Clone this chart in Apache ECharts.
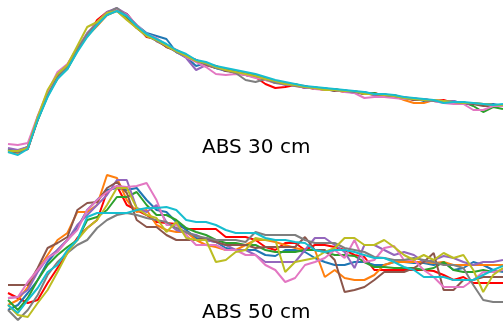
<!DOCTYPE html>
<html>
<head>
<meta charset="utf-8">
<script src="https://cdn.jsdelivr.net/npm/echarts@6/dist/echarts.min.js"></script>
<style>
  html, body { margin: 0; padding: 0; background: #fff; }
  #chart { width: 503px; height: 328px; }
</style>
</head>
<body>
<div id="chart"></div>
<script>
// 51 samples per trace, shared by both panels
const samples = Array.from({ length: 51 }, (_, i) => i);

const names = ['t1', 't2', 't3', 't4', 't5', 't6', 't7', 't8', 't9', 't10'];
const colors = ['#ff0000', '#1f77b4', '#ff7f0e', '#2ca02c', '#9467bd',
                '#8c564b', '#e377c2', '#7f7f7f', '#bcbd22', '#17becf'];

// ABS 30 cm
const abs30 = [
  [9, 8, 11, 40, 66, 82, 95, 112, 124, 140, 148, 150, 146, 134, 123, 121, 113, 110, 103, 100, 95, 92, 91, 87, 85, 83, 76, 72, 73, 75, 72, 72, 70, 71, 68, 69, 66, 67, 64, 63, 63, 60, 61, 59, 60, 57, 57, 56, 56, 55, 54],
  [11, 9, 13, 43, 64, 84, 92, 111, 126, 135, 147, 151, 145, 135, 127, 124, 121, 108, 103, 94, 97, 92, 89, 89, 85, 83, 82, 77, 77, 74, 74, 71, 72, 69, 70, 67, 68, 65, 66, 63, 62, 62, 59, 60, 58, 59, 56, 57, 55, 56, 54],
  [8, 7, 12, 41, 66, 81, 94, 110, 124, 134, 145, 149, 141, 132, 126, 119, 114, 110, 105, 99, 96, 94, 90, 87, 87, 84, 80, 78, 77, 74, 73, 71, 71, 70, 68, 68, 67, 65, 65, 64, 60, 57, 57, 60, 58, 58, 57, 56, 56, 55, 55],
  [10, 8, 13, 40, 64, 82, 91, 109, 125, 137, 146, 150, 143, 133, 124, 121, 115, 108, 105, 99, 97, 92, 91, 87, 86, 85, 81, 79, 76, 76, 73, 73, 70, 71, 69, 68, 66, 67, 64, 65, 62, 61, 60, 59, 59, 57, 58, 54, 48, 53, 51],
  [12, 10, 13, 43, 66, 84, 94, 111, 127, 137, 148, 152, 146, 134, 125, 119, 114, 108, 102, 90, 95, 93, 89, 88, 85, 84, 81, 78, 75, 75, 72, 72, 71, 70, 69, 67, 67, 65, 64, 63, 63, 61, 61, 59, 58, 59, 56, 56, 55, 55, 54],
  [9, 8, 11, 41, 65, 83, 92, 110, 124, 136, 145, 150, 144, 132, 124, 120, 113, 109, 104, 100, 95, 94, 89, 88, 86, 83, 81, 79, 76, 75, 74, 71, 71, 69, 69, 68, 66, 66, 65, 63, 62, 60, 60, 59, 58, 58, 57, 56, 54, 54, 54],
  [16, 15, 17, 44, 68, 88, 96, 112, 126, 138, 147, 151, 145, 135, 126, 122, 115, 110, 103, 98, 93, 86, 85, 86, 85, 82, 80, 77, 76, 74, 73, 71, 70, 70, 68, 67, 62, 63, 63, 62, 61, 62, 60, 59, 57, 56, 56, 50, 50, 54, 54],
  [10, 8, 12, 42, 65, 82, 93, 111, 126, 137, 147, 152, 144, 134, 125, 119, 115, 108, 104, 99, 96, 92, 90, 87, 80, 78, 81, 77, 76, 74, 73, 72, 71, 70, 69, 68, 67, 66, 65, 64, 62, 61, 60, 59, 59, 58, 57, 57, 56, 55, 55],
  [9, 9, 12, 43, 70, 86, 95, 114, 133, 138, 147, 149, 140, 132, 124, 120, 114, 109, 104, 99, 97, 93, 90, 88, 86, 84, 81, 79, 76, 75, 73, 72, 70, 70, 69, 69, 66, 66, 65, 64, 62, 61, 60, 60, 59, 58, 57, 57, 56, 55, 55],
  [8, 5, 11, 40, 63, 81, 91, 108, 123, 135, 145, 149, 144, 134, 126, 121, 116, 110, 106, 100, 98, 94, 92, 90, 88, 86, 83, 80, 78, 76, 74, 73, 72, 71, 70, 69, 68, 66, 66, 65, 63, 62, 61, 60, 57, 58, 58, 57, 56, 55, 56]
];

// ABS 50 cm
const abs50 = [
  [32, 27, 22, 25, 42, 57, 72, 87, 97, 105, 133, 139, 120, 115, 110, 103, 102, 101, 96, 96, 96, 96, 88, 88, 88, 85, 78, 75, 82, 82, 75, 80, 80, 78, 75, 70, 68, 55, 55, 55, 55, 55, 55, 54, 50, 45, 48, 42, 42, 42, 42],
  [15, 20, 32, 45, 63, 75, 85, 97, 115, 125, 135, 137, 135, 137, 125, 115, 113, 103, 95, 87, 85, 83, 77, 75, 75, 75, 70, 69, 75, 75, 73, 67, 63, 60, 60, 63, 63, 60, 60, 63, 63, 62, 62, 60, 63, 55, 57, 63, 60, 55, 53],
  [20, 25, 38, 55, 70, 85, 92, 113, 113, 120, 150, 147, 125, 113, 115, 100, 95, 93, 93, 85, 80, 78, 75, 75, 80, 85, 85, 83, 80, 77, 75, 75, 48, 55, 47, 45, 45, 50, 60, 63, 63, 63, 63, 62, 63, 60, 60, 60, 60, 60, 60],
  [25, 15, 27, 45, 60, 70, 78, 85, 105, 108, 115, 128, 128, 133, 120, 110, 110, 105, 97, 93, 90, 85, 82, 82, 80, 80, 75, 73, 73, 73, 75, 75, 73, 70, 70, 69, 63, 58, 58, 57, 57, 57, 55, 57, 63, 55, 53, 53, 55, 53, 55],
  [27, 28, 35, 53, 67, 75, 85, 100, 110, 120, 130, 145, 145, 117, 113, 120, 103, 95, 92, 90, 85, 83, 80, 75, 75, 70, 63, 63, 63, 63, 75, 87, 87, 80, 73, 57, 80, 80, 75, 70, 73, 70, 63, 65, 69, 67, 63, 60, 63, 63, 65],
  [40, 40, 40, 57, 77, 82, 88, 115, 122, 123, 137, 143, 132, 105, 98, 98, 90, 85, 85, 85, 87, 83, 80, 80, 80, 77, 78, 78, 78, 78, 88, 75, 75, 65, 33, 35, 38, 45, 53, 53, 53, 57, 63, 72, 35, 35, 45, 45, 48, 48, 48],
  [27, 28, 43, 55, 67, 73, 85, 95, 115, 125, 133, 139, 138, 139, 142, 125, 100, 100, 90, 80, 80, 80, 75, 75, 70, 70, 60, 55, 43, 47, 60, 63, 67, 75, 67, 85, 63, 65, 77, 79, 65, 65, 55, 48, 38, 38, 38, 45, 53, 53, 55],
  [15, 5, 15, 30, 50, 63, 72, 80, 85, 97, 105, 110, 112, 110, 107, 105, 103, 97, 93, 89, 87, 85, 85, 85, 83, 93, 90, 90, 90, 90, 85, 82, 82, 82, 77, 75, 73, 68, 67, 65, 65, 67, 65, 63, 60, 60, 57, 40, 25, 23, 23],
  [20, 10, 8, 22, 35, 53, 72, 85, 97, 105, 120, 137, 137, 117, 110, 107, 93, 103, 87, 85, 85, 63, 65, 73, 75, 87, 85, 85, 53, 63, 65, 67, 73, 77, 87, 87, 80, 80, 85, 78, 70, 65, 70, 65, 72, 67, 70, 55, 33, 50, 57],
  [20, 12, 25, 37, 53, 60, 75, 85, 108, 112, 112, 112, 112, 115, 117, 117, 118, 115, 105, 103, 103, 100, 95, 92, 92, 92, 87, 85, 85, 83, 82, 75, 73, 75, 75, 73, 70, 67, 67, 63, 58, 55, 48, 48, 48, 45, 45, 45, 50, 55, 59]
];

const titles = ['ABS 30 cm', 'ABS 50 cm'];

const chart = echarts.init(document.getElementById('chart'), null, { renderer: 'canvas' });

const makeSeries = (rows, idx) => rows.map((row, k) => ({
    name: names[k],
    type: 'line',
    xAxisIndex: idx,
    yAxisIndex: idx,
    data: row,
    showSymbol: false,
    symbol: 'none',
    lineStyle: { width: 2, color: colors[k] },
    itemStyle: { color: colors[k] }
}));

const hiddenX = i => ({
    gridIndex: i, type: 'category', data: samples, boundaryGap: false, show: false
});
const hiddenY = i => ({
    gridIndex: i, type: 'value', min: 0, max: 160, show: false
});

const option = {
    animation: false,
    backgroundColor: '#fff',
    grid: [
        { left: 8, right: 0, top: 0, height: 160 },
        { left: 8, right: 0, top: 165, height: 160 }
    ],
    xAxis: [hiddenX(0), hiddenX(1)],
    yAxis: [hiddenY(0), hiddenY(1)],
    graphic: [
        {
            type: 'text', left: 202, top: 138,
            style: { text: titles[0], font: '20px "DejaVu Sans"', fill: '#000' }
        },
        {
            type: 'text', left: 202, top: 303,
            style: { text: titles[1], font: '20px "DejaVu Sans"', fill: '#000' }
        }
    ],
    series: [...makeSeries(abs30, 0), ...makeSeries(abs50, 1)]
};

chart.setOption(option);
</script>
</body>
</html>
